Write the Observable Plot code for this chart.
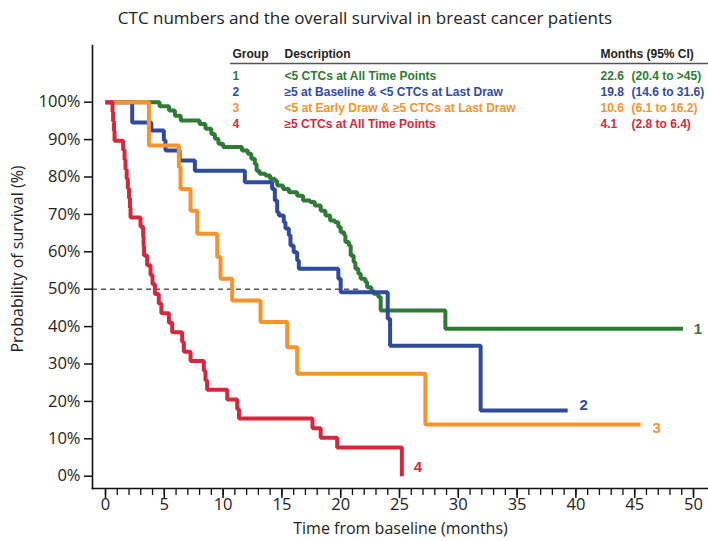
<!DOCTYPE html>
<html><head><meta charset="utf-8">
<script src="https://cdn.jsdelivr.net/npm/d3@7"></script>
<script src="https://cdn.jsdelivr.net/npm/@observablehq/plot@0.6"></script>
<style>
body{margin:0;background:#fff;}
#title{box-sizing:border-box;width:708px;height:36px;padding-top:6px;line-height:24px;font:17px "Open Sans",sans-serif;color:#222;text-align:center;padding-left:22px;white-space:nowrap;}
</style></head><body>
<div id="title">CTC numbers and the overall survival in breast cancer patients</div>
<div id="chart"></div>
<script>
// ---- data ----
const groups = ["1", "2", "3", "4"];
const descriptions = [
  "<5 CTCs at All Time Points",
  "≥5 at Baseline & <5 CTCs at Last Draw",
  "<5 at Early Draw & ≥5 CTCs at Last Draw",
  "≥5 CTCs at All Time Points"
];
const medians = ["22.6", "19.8", "10.6", "4.1"];
const intervals = ["(20.4 to >45)", "(14.6 to 31.6)", "(6.1 to 16.2)", "(2.8 to 6.4)"];
const headers = ["Group", "Description", "Months (95% CI)"];
const colors = ["#2f7a34", "#2f4b9e", "#f5942c", "#d6283c"];

const g1Time = [0, 4.6, 5.4, 5.9, 6.4, 8.0, 8.5, 9.0, 9.3, 9.6, 10.0, 11.6, 12.1, 12.4, 12.7, 12.85, 13.1, 13.6, 14.0, 14.4, 14.6, 15.1, 15.6, 16.3, 16.8, 17.4, 17.8, 18.3, 18.7, 19.1, 19.5, 19.8, 20.0, 20.3, 20.4, 20.7, 20.85, 21.1, 21.25, 21.5, 21.7, 22.1, 22.25, 22.6, 22.8, 23.2, 23.4, 28.9, 49.1];
const g1Surv = [1, 0.989, 0.978, 0.964, 0.951, 0.942, 0.929, 0.915, 0.902, 0.889, 0.88, 0.871, 0.862, 0.849, 0.835, 0.817, 0.809, 0.804, 0.795, 0.79, 0.777, 0.768, 0.759, 0.75, 0.737, 0.733, 0.724, 0.71, 0.697, 0.684, 0.679, 0.666, 0.652, 0.644, 0.626, 0.617, 0.59, 0.572, 0.555, 0.541, 0.528, 0.519, 0.505, 0.495, 0.488, 0.479, 0.443, 0.394, 0.394];

const g2Time = [0, 2.27, 3.9, 4.96, 5.1, 6.3, 7.6, 11.85, 14.17, 14.4, 14.6, 14.74, 15.16, 15.3, 15.59, 15.73, 16.0, 16.3, 16.44, 19.8, 20.0, 24.0, 24.2, 31.9, 39.3];
const g2Surv = [1, 0.946, 0.924, 0.898, 0.871, 0.844, 0.817, 0.786, 0.768, 0.737, 0.706, 0.697, 0.679, 0.662, 0.644, 0.617, 0.599, 0.577, 0.555, 0.528, 0.492, 0.421, 0.349, 0.176, 0.176];

const g3Time = [0, 3.69, 6.24, 6.38, 7.23, 7.8, 9.5, 9.78, 10.77, 13.18, 15.45, 16.3, 27.2, 45.5];
const g3Surv = [1, 0.884, 0.826, 0.768, 0.71, 0.648, 0.586, 0.528, 0.47, 0.412, 0.345, 0.274, 0.138, 0.138];

const g4Time = [0, 0.6, 0.65, 0.72, 0.77, 1.5, 1.62, 1.7, 1.8, 1.9, 2.0, 2.08, 2.13, 2.98, 3.2, 3.24, 3.28, 3.54, 3.83, 4.0, 4.2, 4.53, 4.75, 5.39, 5.67, 6.52, 6.66, 7.23, 8.36, 8.5, 8.64, 10.35, 11.2, 11.35, 17.6, 18.3, 19.7, 25.2];
const g4Surv = [1, 0.974, 0.949, 0.923, 0.897, 0.872, 0.846, 0.821, 0.795, 0.769, 0.744, 0.718, 0.692, 0.667, 0.641, 0.615, 0.59, 0.564, 0.538, 0.513, 0.487, 0.462, 0.436, 0.41, 0.385, 0.359, 0.333, 0.308, 0.282, 0.256, 0.231, 0.205, 0.179, 0.154, 0.128, 0.103, 0.077, 0];

const medianLevel = 0.5;
const xTicks = [0, 5, 10, 15, 20, 25, 30, 35, 40, 45, 50];
const yTicks = [0, 0.1, 0.2, 0.3, 0.4, 0.5, 0.6, 0.7, 0.8, 0.9, 1.0];
const xLabel = "Time from baseline (months)";
const yLabel = "Probability of survival (%)";

// ---- build table ----
const series = [[g1Time, g1Surv], [g2Time, g2Surv], [g3Time, g3Surv], [g4Time, g4Surv]];
const rows = series.flatMap(([t, s], i) => t.map((time, j) => ({group: groups[i], time, surv: s[j]})));
const ends = series.map(([t, s], i) => ({group: groups[i], time: t[t.length - 1], surv: s[s.length - 1]}));

const sans = "'Open Sans', sans-serif";
const arial = "'Liberation Sans', Arial, sans-serif";
const labelOffsets = {"1": [15, 0], "2": [16, -5], "3": [16, 4], "4": [16, -9]};

const tableMarks = [];
const colDx = [140, 192, 508];
headers.forEach((h, c) => tableMarks.push(Plot.text([h], {
  frameAnchor: "top-left", dx: colDx[c], dy: 9, text: d => d, textAnchor: "start", lineAnchor: "middle",
  fontWeight: "bold", fontSize: 12, fontFamily: arial, fill: "#222"
})));
groups.forEach((g, i) => {
  const cells = [[g, 140], [descriptions[i], 192], [medians[i], 508], [intervals[i], 539]];
  cells.forEach(([txt, dx]) => tableMarks.push(Plot.text([txt], {
    frameAnchor: "top-left", dx, dy: 31 + 16 * i, text: d => d, textAnchor: "start", lineAnchor: "middle",
    fontWeight: "bold", fontSize: 12, fontFamily: arial, fill: colors[i]
  })));
});
const underline = () => {
  const l = document.createElementNS("http://www.w3.org/2000/svg", "line");
  l.setAttribute("x1", 230); l.setAttribute("x2", 708);
  l.setAttribute("y1", 27.5); l.setAttribute("y2", 27.5);
  l.setAttribute("stroke", "#555"); l.setAttribute("stroke-width", 1.6);
  return l;
};

const chart = Plot.plot({
  width: 708,
  height: 505,
  marginTop: 9,
  marginBottom: 53,
  marginLeft: 92,
  marginRight: 0,
  style: {fontFamily: sans, fontSize: "16px", color: "#222", background: "#fff", overflow: "visible"},
  x: {domain: [0, 50], range: [105, 693]},
  y: {domain: [0, 1], range: [439.7, 65.7]},
  color: {domain: groups, range: colors},
  marks: [
    Plot.ruleY([medianLevel], {x1: -1.1, x2: 21.7, stroke: "#555", strokeWidth: 1.5, strokeDasharray: "5,4"}),
    Plot.line(rows, {x: "time", y: "surv", z: "group", stroke: "group", curve: "step-after", strokeWidth: 4, strokeLinejoin: "miter", strokeLinecap: "butt"}),
    ...groups.map((g, i) => Plot.text(ends.filter(d => d.group === g), {
      x: "time", y: "surv", text: "group", fill: colors[i], dx: labelOffsets[g][0], dy: labelOffsets[g][1],
      fontWeight: "bold", fontSize: 15, fontFamily: arial
    })),
    Plot.frame({anchor: "left", stroke: "#111", strokeWidth: 1.6}),
    Plot.frame({anchor: "bottom", stroke: "#111", strokeWidth: 1.6}),
    Plot.axisY({ticks: yTicks, tickFormat: d3.format(".0%"), tickSize: 8, tickPadding: 4, label: null, fontSize: 16.5, stroke: "#111", strokeWidth: 1.5, fill: "#222"}),
    Plot.axisX({ticks: d3.range(0, 51), tickFormat: () => "", tickSize: 7, label: null, stroke: "#111", strokeWidth: 1.3}),
    Plot.axisX({ticks: xTicks, tickSize: 10, tickPadding: 0, label: null, fontSize: 16.5, stroke: "#111", strokeWidth: 1.5, fill: "#222"}),
    Plot.text([xLabel], {frameAnchor: "bottom", dy: 40, text: d => d, fontSize: 16, fontFamily: sans, fill: "#222", lineAnchor: "middle"}),
    Plot.text([yLabel], {frameAnchor: "left", dx: -75, dy: -8, rotate: -90, text: d => d, fontSize: 16, fontFamily: sans, fill: "#222", textAnchor: "middle", lineAnchor: "middle"}),
    ...tableMarks,
    underline
  ]
});
document.getElementById("chart").append(chart);
</script></body></html>
